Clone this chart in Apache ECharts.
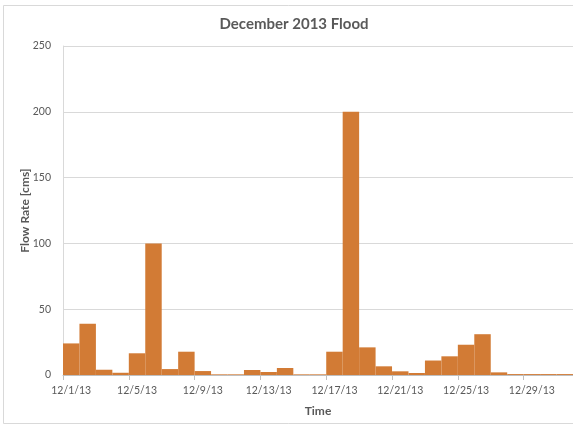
<!DOCTYPE html>
<html>
<head>
<meta charset="utf-8">
<script src="https://cdn.jsdelivr.net/npm/echarts@6/dist/echarts.min.js"></script>
<style>
  html, body { margin: 0; padding: 0; background: #fff; }
  #chart { width: 573px; height: 424px; }
</style>
</head>
<body>
<div id="chart"></div>
<script>
// Daily flow rate, December 2013
const days = [
  '12/1/13','12/2/13','12/3/13','12/4/13','12/5/13','12/6/13','12/7/13','12/8/13',
  '12/9/13','12/10/13','12/11/13','12/12/13','12/13/13','12/14/13','12/15/13','12/16/13',
  '12/17/13','12/18/13','12/19/13','12/20/13','12/21/13','12/22/13','12/23/13','12/24/13',
  '12/25/13','12/26/13','12/27/13','12/28/13','12/29/13','12/30/13','12/31/13'
];
const flowRate = [
  24, 39, 4, 1.7, 16.5, 100, 4.5, 17.7,
  3, 0.5, 0.5, 3.8, 2.3, 5.3, 0.5, 0.5,
  17.7, 200, 21, 6.6, 2.8, 1.5, 11, 14.2,
  23, 31, 2, 0.7, 0.7, 0.7, 0.7
];
const yTicks = [0, 50, 100, 150, 200, 250];

const font = 'Lato, "Open Sans", sans-serif';
const chart = echarts.init(document.getElementById('chart'), null, { renderer: 'canvas' });
chart.setOption({
  animation: false,
  backgroundColor: '#ffffff',
  graphic: [{
    type: 'rect',
    shape: { x: 3.5, y: 5.5, width: 600, height: 418 },
    style: { fill: 'none', stroke: '#d9d9d9', lineWidth: 1 },
    silent: true
  }],
  title: {
    text: 'December 2013 Flood',
    left: 289,
    textAlign: 'center',
    top: 12,
    textStyle: { fontFamily: font, fontSize: 15, fontWeight: 'bold', color: '#595959' }
  },
  grid: { left: 63, top: 46, width: 515, height: 329 },
  xAxis: {
    type: 'category',
    data: days,
    boundaryGap: true,
    name: 'Time',
    nameLocation: 'middle',
    nameGap: 30,
    nameMoveOverlap: false,
    nameTextStyle: { fontFamily: font, fontSize: 12, fontWeight: 'bold', color: '#595959' },
    axisLine: { lineStyle: { color: '#bfbfbf', width: 1 } },
    axisTick: { show: true, interval: 3, length: 5, alignWithLabel: false, lineStyle: { color: '#bfbfbf' } },
    axisLabel: {
      interval: 3,
      margin: 10,
      fontFamily: font, fontSize: 10.5, color: '#595959'
    }
  },
  yAxis: {
    type: 'value',
    min: yTicks[0],
    max: yTicks[yTicks.length - 1],
    interval: yTicks[1] - yTicks[0],
    name: 'Flow Rate [cms]',
    nameLocation: 'middle',
    nameRotate: 90,
    nameGap: 32,
    nameMoveOverlap: false,
    nameTextStyle: { fontFamily: font, fontSize: 12, fontWeight: 'bold', color: '#595959' },
    axisLine: { show: true, lineStyle: { color: '#d9d9d9', width: 1 } },
    axisTick: { show: false },
    axisLabel: { margin: 12, fontFamily: font, fontSize: 10.5, color: '#595959' },
    splitLine: { show: true, lineStyle: { color: '#d9d9d9', width: 1 } }
  },
  series: [{
    type: 'bar',
    data: flowRate,
    barWidth: '100%',
    barCategoryGap: '0%',
    itemStyle: { color: '#d27b35' }
  }]
});
</script>
</body>
</html>
